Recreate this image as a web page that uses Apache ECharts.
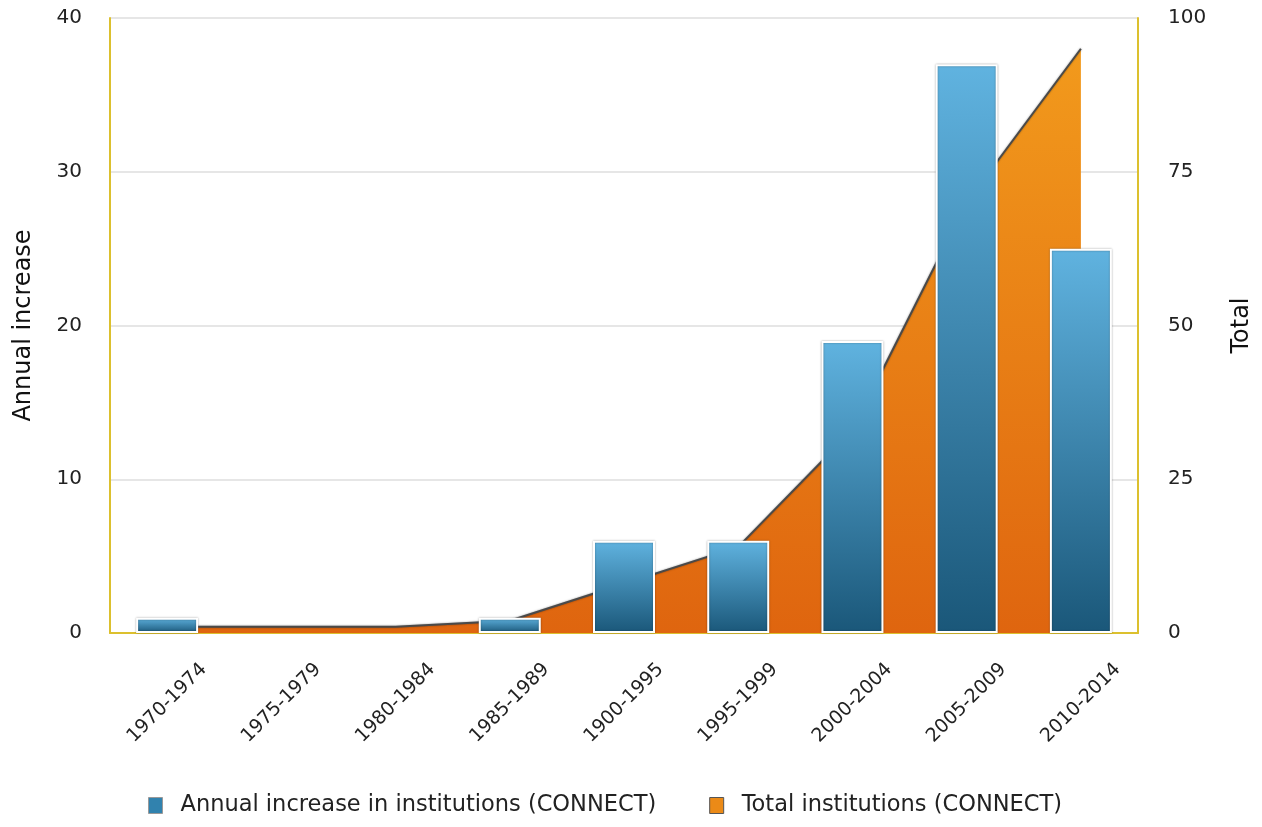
<!DOCTYPE html>
<html>
<head>
<meta charset="utf-8">
<script src="https://cdn.jsdelivr.net/npm/echarts@6/dist/echarts.min.js"></script>
<style>
  html, body { margin: 0; padding: 0; background: #fff; }
  #chart { width: 1262px; height: 827px; }
</style>
</head>
<body>
<div id="chart"></div>
<script>
const periods = ['1970-1974', '1975-1979', '1980-1984', '1985-1989', '1900-1995',
  '1995-1999', '2000-2004', '2005-2009', '2010-2014']
const annualIncrease = [1, 0, 0, 1, 6, 6, 19, 37, 25]
const totalInstitutions = [1, 1, 1, 2, 8, 14, 33, 70, 95]
const leftTicks = [0, 40, 10]
const rightTicks = [0, 100, 25]

const font = 'DejaVu Sans, Verdana, sans-serif'
const chart = echarts.init(document.getElementById('chart'), null, { renderer: 'canvas' })

chart.setOption({
  animation: false,
  textStyle: { fontFamily: font },
  grid: { left: 110, right: 124, top: 18, bottom: 194 },
  legend: {
    bottom: 5,
    left: 143,
    itemWidth: 14,
    itemHeight: 16,
    itemGap: 53,
    textStyle: { fontSize: 22.5, color: '#222', fontFamily: font, padding: [0, 0, 0, 13] },
    data: [
      { name: 'Annual increase in institutions (CONNECT)', icon: 'rect',
        itemStyle: { color: '#3182ae', borderColor: '#999', borderWidth: 1 } },
      { name: 'Total institutions (CONNECT)', icon: 'rect',
        itemStyle: { color: '#eb8a17', borderColor: '#555', borderWidth: 1 } }
    ]
  },
  xAxis: {
    type: 'category',
    data: periods,
    boundaryGap: true,
    axisLine: { show: true, lineStyle: { color: '#dcc02e', width: 2 } },
    axisTick: { show: false },
    axisLabel: {
      rotate: 45, fontSize: 19, color: '#222', margin: 70, interval: 0,
      align: 'center', verticalAlign: 'middle'
    }
  },
  yAxis: [
    {
      type: 'value',
      name: 'Annual increase',
      nameLocation: 'middle',
      nameGap: 74,
      nameTextStyle: { fontSize: 24, color: '#111' },
      min: leftTicks[0], max: leftTicks[1], interval: leftTicks[2],
      axisLine: { show: true, lineStyle: { color: '#dcc02e', width: 2 } },
      axisTick: { show: false },
      axisLabel: { fontSize: 20, color: '#222', margin: 28 },
      splitLine: { lineStyle: { color: '#e6e6e6', width: 2 } }
    },
    {
      type: 'value',
      name: 'Total',
      nameLocation: 'middle',
      nameGap: 92,
      nameRotate: 90,
      nameTextStyle: { fontSize: 24, color: '#111' },
      min: rightTicks[0], max: rightTicks[1], interval: rightTicks[2],
      axisLine: { show: true, lineStyle: { color: '#dcc02e', width: 2 } },
      axisTick: { show: false },
      axisLabel: { fontSize: 20, color: '#222', margin: 30 },
      splitLine: { show: false }
    }
  ],
  series: [
    {
      name: 'Annual increase in institutions (CONNECT)',
      type: 'bar',
      yAxisIndex: 0,
      z: 3,
      barWidth: 62,
      itemStyle: {
        borderColor: '#fff',
        borderWidth: 2,
        shadowColor: 'rgba(0,0,0,0.35)',
        shadowBlur: 2,
        color: new echarts.graphic.LinearGradient(0, 0, 0, 1, [
          { offset: 0, color: '#60b3e0' },
          { offset: 1, color: '#1a5779' }
        ])
      },
      // zero years have no bar in the original
      data: annualIncrease.map(v => (v === 0 ? '-' : v))
    },
    {
      name: 'Total institutions (CONNECT)',
      type: 'line',
      yAxisIndex: 1,
      z: 2,
      showSymbol: false,
      lineStyle: { color: '#4a4a4a', width: 2, shadowColor: 'rgba(0,0,0,0.4)', shadowBlur: 2 },
      areaStyle: {
        opacity: 1,
        color: new echarts.graphic.LinearGradient(0, 0, 0, 1, [
          { offset: 0, color: '#f29a1c' },
          { offset: 1, color: '#df650f' }
        ])
      },
      data: totalInstitutions
    }
  ]
})
</script>
</body>
</html>
